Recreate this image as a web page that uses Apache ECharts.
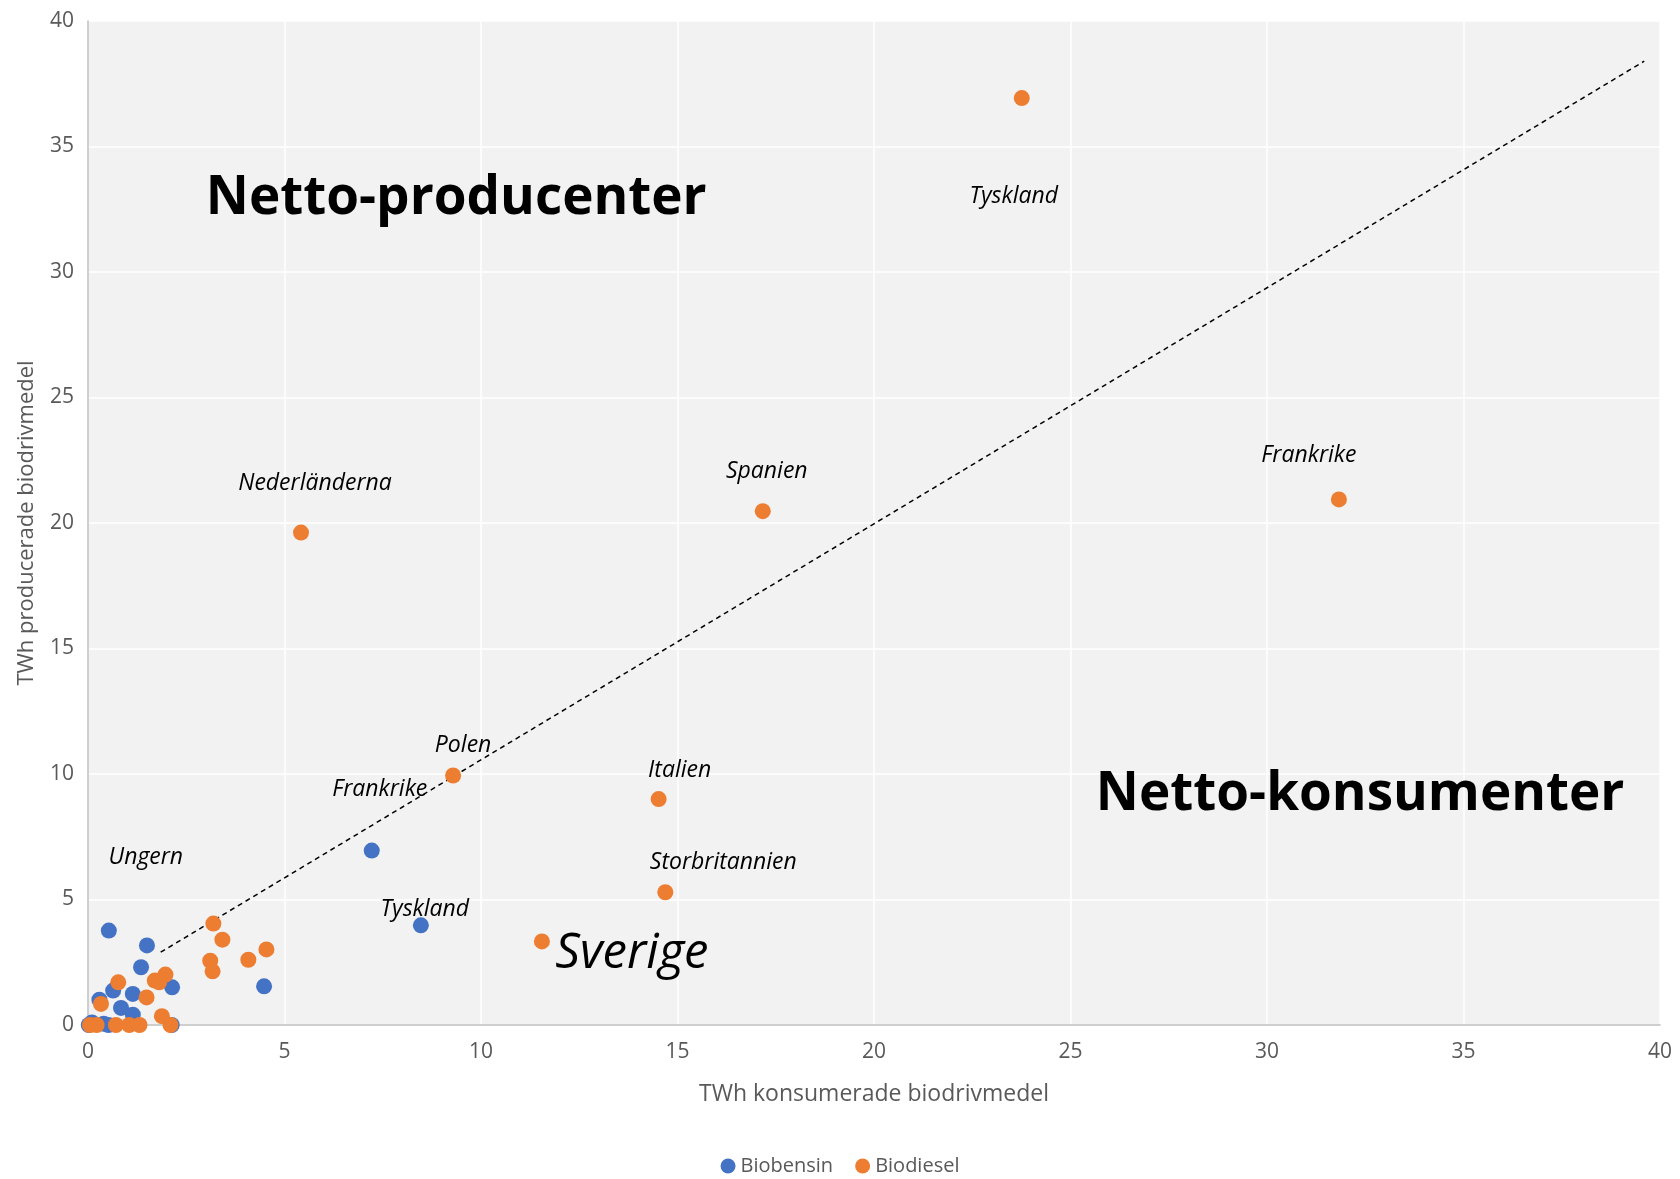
<!DOCTYPE html>
<html>
<head>
<meta charset="utf-8">
<script src="https://cdn.jsdelivr.net/npm/echarts@6/dist/echarts.min.js"></script>
<style>
html, body { margin: 0; padding: 0; background: #fff; }
#main { width: 1680px; height: 1179px; }
</style>
</head>
<body>
<div id="main"></div>
<script>
// Biobensin: konsumerat (x) / producerat (y), TWh
var biobensinX = [0.02, 0.1, 0.4, 0.52, 2.13, 0.29, 0.84, 1.14, 0.64, 1.14, 2.14, 1.35, 1.50, 0.53, 4.48, 7.22, 8.47];
var biobensinY = [0, 0.1, 0.05, 0, 0, 1.01, 0.68, 0.41, 1.37, 1.24, 1.50, 2.30, 3.17, 3.76, 1.54, 6.95, 3.97];
var biobensinNames = ['', '', '', '', '', '', '', '', '', '', '', '', '', 'Ungern', '', 'Frankrike', 'Tyskland'];

// Biodiesel
var biodieselX = [0.05, 0.22, 0.71, 1.05, 1.31, 2.10, 1.88, 0.33, 1.49, 0.77, 1.70, 1.81, 1.97, 3.11, 3.17, 3.42, 3.19, 4.08, 4.54, 11.55, 14.69, 14.52, 9.29, 5.42, 17.17, 31.83, 23.76];
var biodieselY = [0, 0, 0, 0, 0, 0, 0.35, 0.84, 1.10, 1.70, 1.77, 1.70, 2.01, 2.56, 2.14, 3.40, 4.04, 2.60, 3.01, 3.33, 5.29, 9.0, 9.94, 19.62, 20.47, 20.94, 36.93];
var biodieselNames = ['', '', '', '', '', '', '', '', '', '', '', '', '', '', '', '', '', '', '', 'Sverige', 'Storbritannien', 'Italien', 'Polen', 'Nederländerna', 'Spanien', 'Frankrike', 'Tyskland'];

// trendlinje (streckad)
var trendX = [1.85, 39.6];
var trendY = [2.9, 38.4];

// rubriker i diagrammet
var zoneNames = ['Netto-producenter', 'Netto-konsumenter'];
var zoneX = [9.37, 32.37];
var zoneY = [32.9, 9.17];

var xTicks = [0, 40, 5];
var yTicks = [0, 40, 5];

// etikettplacering (pixlar relativt punkten)
var labelOffsets = {
    'Biobensin:Ungern': [37, -73],
    'Biobensin:Frankrike': [8, -61],
    'Biobensin:Tyskland': [4, -16],
    'Biodiesel:Sverige': [90, 13],
    'Biodiesel:Storbritannien': [58, -30],
    'Biodiesel:Italien': [21, -29],
    'Biodiesel:Polen': [10, -30],
    'Biodiesel:Nederländerna': [14, -49],
    'Biodiesel:Spanien': [4, -40],
    'Biodiesel:Frankrike': [-30, -44],
    'Biodiesel:Tyskland': [-8, 98]
};

var FONT = 'Open Sans';

function buildData(series, xs, ys, names) {
    var out = [];
    for (var i = 0; i < xs.length; i++) {
        var item = { value: [xs[i], ys[i]] };
        if (names[i]) {
            var big = names[i] === 'Sverige';
            item.name = names[i];
            item.label = {
                show: true,
                formatter: names[i],
                position: 'inside',
                offset: labelOffsets[series + ':' + names[i]],
                fontFamily: FONT,
                fontStyle: 'italic',
                fontSize: big ? 49 : 23,
                color: '#000',
                textBorderWidth: 0
            };
        }
        out.push(item);
    }
    return out;
}

var dom = document.getElementById('main');
var myChart = echarts.init(dom);

var option = {
    backgroundColor: '#fff',
    animation: false,
    textStyle: { fontFamily: FONT },
    grid: {
        left: 88,
        right: 20,
        top: 21,
        bottom: 154,
        show: true,
        backgroundColor: '#f2f2f2',
        borderWidth: 0
    },
    legend: {
        data: ['Biobensin', 'Biodiesel'],
        top: 1151,
        left: 'center',
        icon: 'circle',
        itemWidth: 15,
        itemHeight: 15,
        itemGap: 22,
        textStyle: { fontFamily: FONT, fontSize: 20, color: '#595959' }
    },
    xAxis: {
        type: 'value',
        min: xTicks[0],
        max: xTicks[1],
        interval: xTicks[2],
        name: 'TWh konsumerade biodrivmedel',
        nameLocation: 'middle',
        nameGap: 58,
        nameTextStyle: { fontFamily: FONT, fontSize: 23, color: '#595959' },
        axisLine: { show: true, lineStyle: { color: '#bfbfbf', width: 1.5 } },
        axisTick: { show: false },
        axisLabel: { fontFamily: FONT, fontSize: 21, color: '#595959', margin: 17 },
        splitLine: { show: true, lineStyle: { color: '#ffffff', width: 1.5 } }
    },
    yAxis: {
        type: 'value',
        min: yTicks[0],
        max: yTicks[1],
        interval: yTicks[2],
        name: 'TWh producerade biodrivmedel',
        nameLocation: 'middle',
        nameGap: 50,
        nameTextStyle: { fontFamily: FONT, fontSize: 22, color: '#595959' },
        axisLine: { show: true, lineStyle: { color: '#bfbfbf', width: 1.5 } },
        axisTick: { show: false },
        axisLabel: { fontFamily: FONT, fontSize: 21, color: '#595959', margin: 14 },
        splitLine: { show: true, lineStyle: { color: '#ffffff', width: 1.5 } }
    },
    series: [
        {
            name: 'trend',
            type: 'line',
            data: [[trendX[0], trendY[0]], [trendX[1], trendY[1]]],
            symbol: 'none',
            silent: true,
            lineStyle: { color: '#000', width: 1.5, type: [5, 4] },
            z: 1
        },
        {
            name: 'Biobensin',
            type: 'scatter',
            symbolSize: 16,
            itemStyle: { color: '#4472c4', opacity: 1 },
            data: buildData('Biobensin', biobensinX, biobensinY, biobensinNames),
            z: 2
        },
        {
            name: 'Biodiesel',
            type: 'scatter',
            symbolSize: 16,
            itemStyle: { color: '#ed7d31', opacity: 1 },
            data: buildData('Biodiesel', biodieselX, biodieselY, biodieselNames),
            z: 3
        },
        {
            name: 'zoner',
            type: 'scatter',
            symbolSize: 0,
            silent: true,
            data: zoneNames.map(function (n, i) {
                return { name: n, value: [zoneX[i], zoneY[i]] };
            }),
            label: {
                show: true,
                position: 'inside',
                formatter: '{b}',
                fontFamily: FONT,
                fontWeight: 'bold',
                fontSize: 53,
                color: '#000',
                opacity: 1,
                textBorderWidth: 0
            },
            z: 4
        }
    ]
};

if (option && typeof option === "object") {
    myChart.setOption(option, true);
}
</script>
</body>
</html>
